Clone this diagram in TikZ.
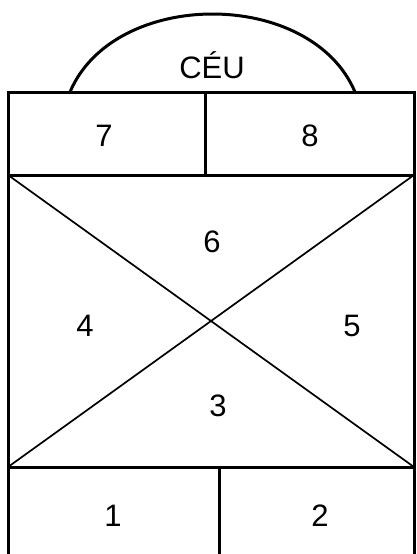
\documentclass[tikz,border=0pt]{standalone}
\usepackage{fontspec}
\setmainfont{Liberation Sans}
\usetikzlibrary{positioning}
\tikzset{
  every picture/.style={line width=3pt},
  wall/.style={draw=black, line width=3pt, line join=miter},
  diag/.style={draw=black, line width=1.7pt},
  num/.style={font=\fontsize{31}{34}\selectfont, inner sep=0pt},
}
\begin{document}
\begin{tikzpicture}[x=1pt, y=-1pt]
  \useasboundingbox (0,0) rectangle (417,554);
  % corners of the plan
  \coordinate (tl) at (8,92);   \coordinate (tr) at (414,92);
  \coordinate (ml) at (8,175);  \coordinate (mr) at (414,175);
  \coordinate (bl) at (8,467);  \coordinate (br) at (414,467);
  \coordinate (fl) at (8,554);  \coordinate (fr) at (414,554);
  % dome
  \draw[wall] (70,92) .. controls (114,-12) and (311,-12) .. (355,92);
  % outline and rows
  \draw[wall] (fl) -- (tl) -- (tr) -- (fr);
  \draw[wall] (ml) -- (mr);
  \draw[wall] (bl) -- (br);
  \draw[wall] (205,92) -- (205,175);
  \draw[wall] (219,467) -- (219,554);
  % cross
  \draw[diag] (ml) -- (br);
  \draw[diag] (mr) -- (bl);
  % labels
  \node[num] (ceu) at (212,65) {CÉU};
  \node[num] (n7) at (104,136) {7};
  \node[num] (n8) at (310,136) {8};
  \node[num] (n6) at (212,242) {6};
  \node[num] (n4) at (85,326) {4};
  \node[num] (n5) at (352,326) {5};
  \node[num] (n3) at (218,406) {3};
  \node[num] (n1) at (113,516) {1};
  \node[num] (n2) at (320,516) {2};
\end{tikzpicture}
\end{document}
